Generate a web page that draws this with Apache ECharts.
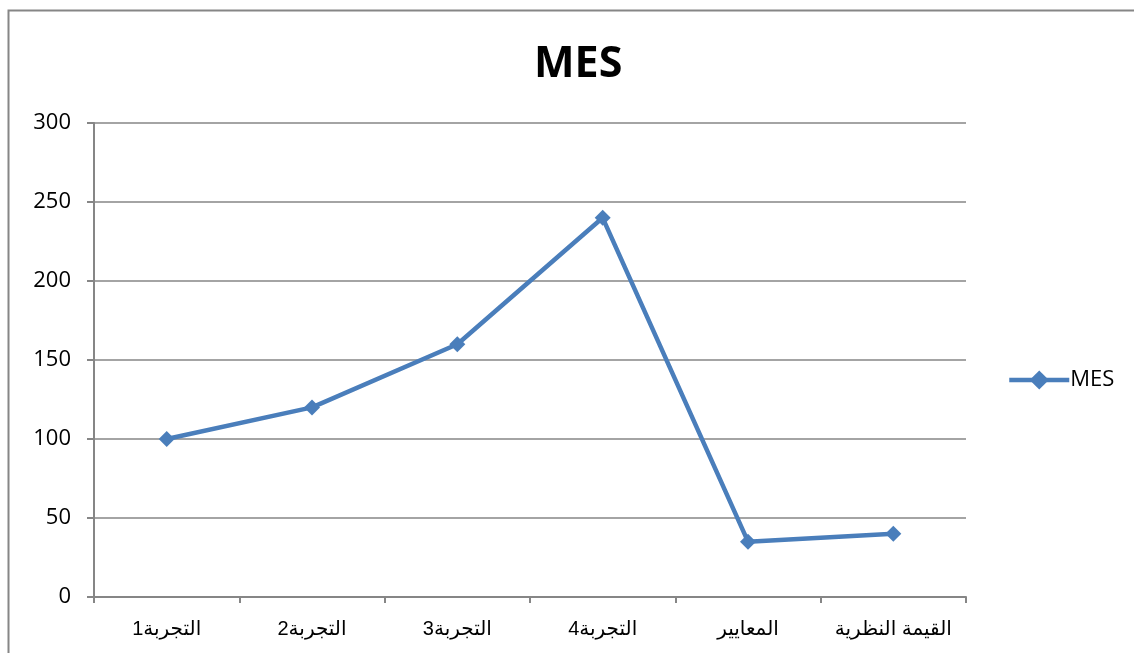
<!DOCTYPE html>
<html><head><meta charset="utf-8">
<script src="https://cdn.jsdelivr.net/npm/echarts@6/dist/echarts.min.js"></script>
<style>html,body{margin:0;padding:0;background:#fff}#c{width:1134px;height:653px}</style>
</head><body><div id="c"></div>
<script>
const categories = ['التجربة1','التجربة2','التجربة3','التجربة4','المعايير','القيمة النظرية'];
const mesValues = [100, 120, 160, 240, 35, 40];
const seriesName = 'MES';
const chartTitle = 'MES';

const chart = echarts.init(document.getElementById('c'), null, {renderer:'canvas'});
chart.setOption({
  animation:false,
  backgroundColor:'#fff',
  graphic:[{type:'rect', shape:{x:8.5,y:10.5,width:1200,height:700}, style:{fill:'none',stroke:'#868686',lineWidth:2}, silent:true}],
  title:{text:chartTitle, left:529, top:38,
    textStyle:{fontFamily:'Open Sans, Liberation Sans, sans-serif', fontWeight:'bold', fontSize:43, color:'#000'}},
  legend:{data:[seriesName], left:1002, top:364, itemWidth:60, itemHeight:24, itemGap:4,
    lineStyle:{width:4.5, color:'#4a7ebb'},
    itemStyle:{color:'#4a7ebb'},
    textStyle:{fontFamily:'Open Sans, sans-serif', fontSize:22, color:'#000', padding:[0,0,0,-4]}},
  grid:{left:94, right:168, top:123, bottom:56},
  xAxis:{type:'category', data:categories, boundaryGap:true,
    axisLine:{lineStyle:{color:'#868686', width:2}},
    axisTick:{show:true, interval:0, length:6, lineStyle:{color:'#868686', width:2}},
    axisLabel:{interval:0, margin:22, fontFamily:'Liberation Sans, DejaVu Sans, sans-serif', fontSize:20, color:'#000'}},
  yAxis:{type:'value', min:0, max:300, interval:50,
    axisLine:{show:true, lineStyle:{color:'#868686', width:2}},
    axisTick:{show:true, length:7, lineStyle:{color:'#868686', width:2}},
    splitLine:{lineStyle:{color:'#868686', width:1.5}},
    axisLabel:{margin:23, fontFamily:'Open Sans, sans-serif', fontSize:22, color:'#000'}},
  series:[{name:seriesName, type:'line', data:mesValues, symbol:'diamond', symbolSize:16,
    lineStyle:{color:'#4a7ebb', width:4.5}, itemStyle:{color:'#4a7ebb'}}]
});
</script></body></html>
